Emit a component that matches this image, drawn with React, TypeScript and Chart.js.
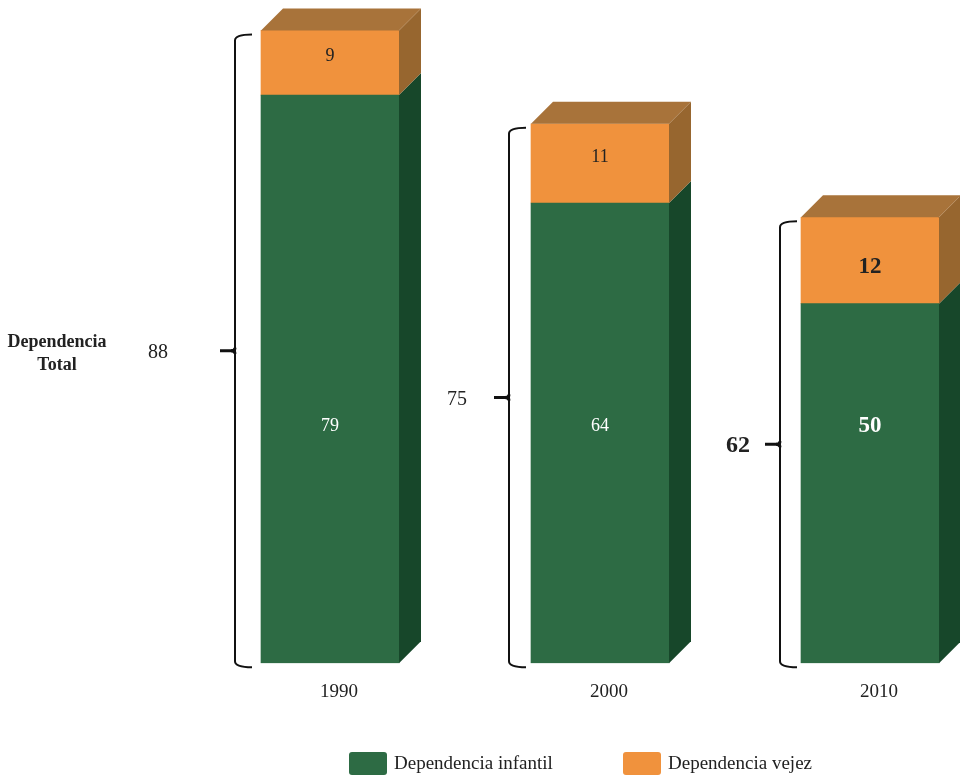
import React, { useEffect, useRef } from "react";
import { Chart, registerables } from "chart.js";

Chart.register(...registerables);

// ---- data ----
const years = [1990, 2000, 2010];
const infantil = [79, 64, 50];
const vejez = [9, 11, 12];
const totals = [88, 75, 62];
const seriesNames = ["Dependencia infantil", "Dependencia vejez"];
const sideTitle = ["Dependencia", "Total"];

// ---- styles ----
const FONT = "'Liberation Serif', 'DejaVu Serif', serif";
const GREEN = "#2d6b44";
const GREEN_SIDE = "#17472a";
const ORANGE = "#f0923d";
const ORANGE_SIDE = "#97662f";
const ORANGE_TOP = "#a8733a";
const DEPTH = 22;
const emphasis = [false, false, true];
const braceGap = [26, 22, 21];
const totalGap = [77, 52, 42];
const pxPerYear = 27;
const firstCenter = 330;

const bar3dPlugin = {
  id: "bar3d",
  afterDatasetsDraw(chart: any) {
    const ctx = chart.ctx;
    const sideColors = [GREEN_SIDE, ORANGE_SIDE];
    const n = chart.data.datasets.length;
    ctx.save();
    years.forEach((_, j) => {
      for (let di = 0; di < n; di++) {
        const el = chart.getDatasetMeta(di).data[j];
        const { x, y, base, width } = el.getProps(["x", "y", "base", "width"], true);
        const left = x - width / 2;
        const right = x + width / 2;
        ctx.fillStyle = sideColors[di];
        ctx.beginPath();
        ctx.moveTo(right, y);
        ctx.lineTo(right + DEPTH, y - DEPTH);
        ctx.lineTo(right + DEPTH, base - DEPTH);
        ctx.lineTo(right, base);
        ctx.closePath();
        ctx.fill();
        if (di === n - 1) {
          ctx.fillStyle = ORANGE_TOP;
          ctx.beginPath();
          ctx.moveTo(left, y);
          ctx.lineTo(left + DEPTH, y - DEPTH);
          ctx.lineTo(right + DEPTH, y - DEPTH);
          ctx.lineTo(right, y);
          ctx.closePath();
          ctx.fill();
        }
      }
    });

    // value labels
    const yScale = chart.scales.y;
    years.forEach((_, j) => {
      const g = chart.getDatasetMeta(0).data[j].getProps(["x", "y", "base"], true);
      const o = chart.getDatasetMeta(1).data[j].getProps(["x", "y", "base"], true);
      const big = emphasis[j];
      ctx.textAlign = "center";
      ctx.textBaseline = "middle";
      ctx.font = big ? `bold 23px ${FONT}` : `18px ${FONT}`;
      ctx.fillStyle = "#ffffff";
      ctx.fillText(String(infantil[j]), g.x, yScale.getPixelForValue(33));
      ctx.fillStyle = "#222222";
      const mid = (o.y + o.base) / 2;
      ctx.fillText(String(vejez[j]), o.x, big ? mid + 7 : mid - 6);
    });
    ctx.restore();
  },
  afterDraw(chart: any) {
    const ctx = chart.ctx;
    ctx.save();
    ctx.strokeStyle = "#111111";
    ctx.fillStyle = "#222222";
    years.forEach((_, j) => {
      const o = chart.getDatasetMeta(1).data[j].getProps(["x", "y", "width"], true);
      const g = chart.getDatasetMeta(0).data[j].getProps(["base"], true);
      const bx = o.x - o.width / 2 - braceGap[j];
      const top = o.y + 4;
      const bot = g.base + 4;
      const mid = (top + bot) / 2;
      ctx.lineWidth = 2;
      ctx.beginPath();
      ctx.moveTo(bx + 17, top);
      ctx.quadraticCurveTo(bx, top, bx, top + 6);
      ctx.lineTo(bx, bot - 6);
      ctx.quadraticCurveTo(bx, bot, bx + 17, bot);
      ctx.stroke();
      ctx.lineWidth = 3;
      ctx.beginPath();
      ctx.moveTo(bx - 15, mid);
      ctx.lineTo(bx - 4, mid);
      ctx.quadraticCurveTo(bx, mid, bx, mid - 3);
      ctx.stroke();
      ctx.beginPath();
      ctx.moveTo(bx - 4, mid);
      ctx.quadraticCurveTo(bx, mid, bx, mid + 3);
      ctx.stroke();
      ctx.textAlign = "center";
      ctx.textBaseline = "middle";
      ctx.font = emphasis[j] ? `bold 24px ${FONT}` : `20px ${FONT}`;
      ctx.fillText(String(totals[j]), bx - totalGap[j], mid + 2);
    });
    // side title
    ctx.font = `bold 18px ${FONT}`;
    ctx.textAlign = "center";
    ctx.textBaseline = "middle";
    ctx.fillText(sideTitle[0], 57, 342);
    ctx.fillText(sideTitle[1], 57, 365);

    // legend
    const items = [
      { label: seriesNames[0], color: GREEN, x: 349 },
      { label: seriesNames[1], color: ORANGE, x: 623 },
    ];
    items.forEach((it) => {
      ctx.fillStyle = it.color;
      ctx.beginPath();
      (ctx as any).roundRect(it.x, 752, 38, 23, 3);
      ctx.fill();
      ctx.fillStyle = "#222222";
      ctx.font = `19px ${FONT}`;
      ctx.textAlign = "left";
      ctx.textBaseline = "middle";
      ctx.fillText(it.label, it.x + 45, 764);
    });
    ctx.restore();
  },
};

export default function App() {
  const ref = useRef<HTMLCanvasElement | null>(null);
  useEffect(() => {
    if (!ref.current) return;
    const xMin = years[0] - firstCenter / pxPerYear;
    const xMax = xMin + 960 / pxPerYear;
    const chart = new Chart(ref.current, {
      type: "bar",
      data: {
        datasets: [
          {
            label: seriesNames[0],
            data: years.map((yr, i) => ({ x: yr, y: infantil[i] })),
            backgroundColor: GREEN,
            barThickness: 138,
          },
          {
            label: seriesNames[1],
            data: years.map((yr, i) => ({ x: yr, y: vejez[i] })),
            backgroundColor: ORANGE,
            barThickness: 138,
          },
        ],
      },
      options: {
        responsive: false,
        animation: false,
        devicePixelRatio: 1,
        events: [],
        layout: { padding: { top: 16, bottom: 58, left: 0, right: 0 } },
        plugins: { legend: { display: false }, tooltip: { enabled: false } },
        scales: {
          x: {
            type: "linear",
            stacked: true,
            offset: false,
            min: xMin,
            max: xMax,
            afterBuildTicks: (axis: any) => {
              axis.ticks = years.map((v) => ({ value: v }));
            },
            grid: { display: false, drawTicks: false },
            border: { display: false },
            ticks: {
              callback: (v: any) => String(v),
              font: { family: FONT, size: 19 },
              color: "#222222",
              padding: 17,
              labelOffset: 9,
              autoSkip: false,
              maxRotation: 0,
            },
          },
          y: {
            stacked: true,
            display: false,
            min: 0,
            max: 90,
          },
        },
      } as any,
      plugins: [bar3dPlugin],
    });
    return () => chart.destroy();
  }, []);
  return (
    <div style={{ position: "fixed", left: 0, top: 0, width: 960, height: 778, background: "#ffffff" }}>
      <canvas ref={ref} width={960} height={778} style={{ display: "block" }} />
    </div>
  );
}
